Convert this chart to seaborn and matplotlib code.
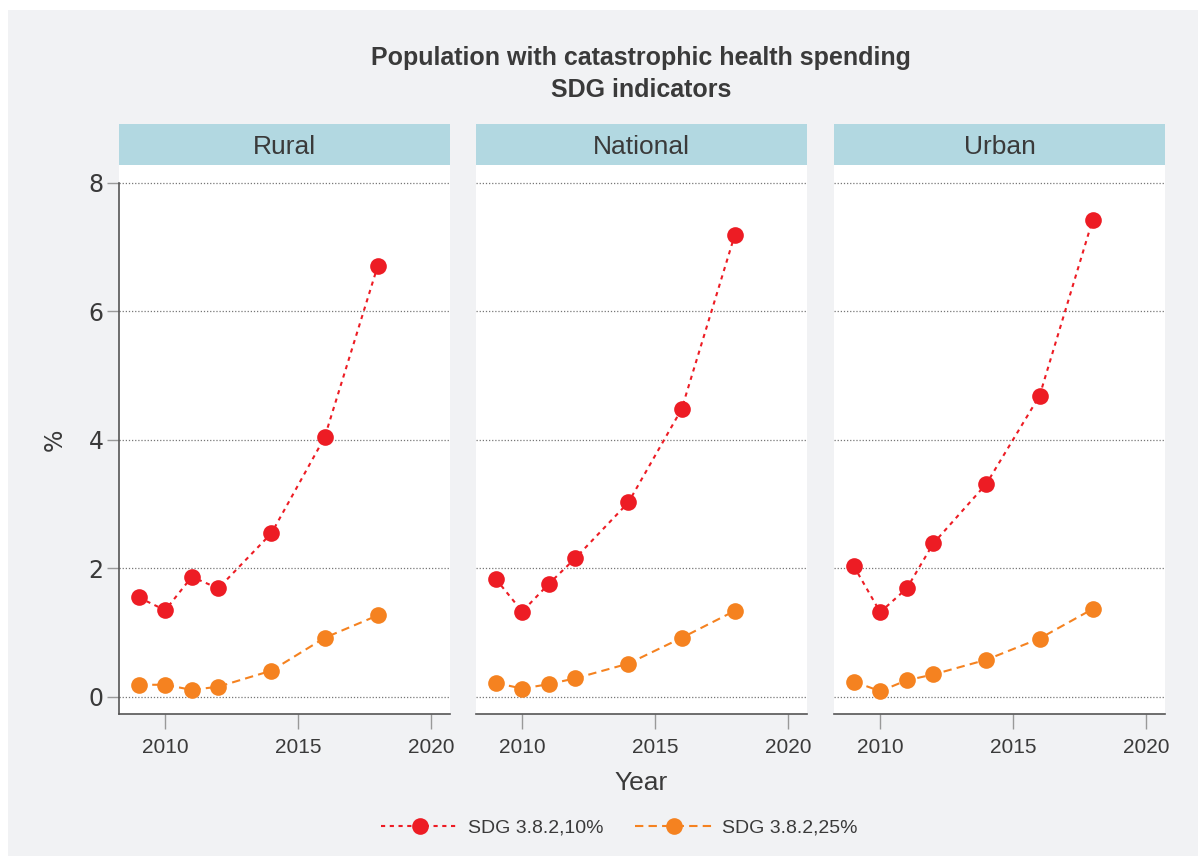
"""
Population with catastrophic health spending (SDG 3.8.2) by area, three panels.
"""
import matplotlib
matplotlib.use("Agg")
import matplotlib.pyplot as plt
from matplotlib.patches import Rectangle
import pandas as pd
import seaborn as sns

# ── Data ──────────────────────────────────────────────────────────────────── #
YEARS = [2009, 2010, 2011, 2012, 2014, 2016, 2018]
PANELS = ["Rural", "National", "Urban"]
SERIES = ["SDG 3.8.2,10%", "SDG 3.8.2,25%"]

rural_10 = [1.55, 1.35, 1.87, 1.69, 2.55, 4.04, 6.71]
rural_25 = [0.19, 0.19, 0.11, 0.16, 0.41, 0.92, 1.27]
national_10 = [1.84, 1.33, 1.76, 2.16, 3.03, 4.48, 7.19]
national_25 = [0.22, 0.13, 0.20, 0.29, 0.52, 0.92, 1.34]
urban_10 = [2.04, 1.32, 1.69, 2.39, 3.32, 4.69, 7.43]
urban_25 = [0.24, 0.09, 0.26, 0.35, 0.58, 0.91, 1.37]

values = {
    ("Rural", SERIES[0]): rural_10, ("Rural", SERIES[1]): rural_25,
    ("National", SERIES[0]): national_10, ("National", SERIES[1]): national_25,
    ("Urban", SERIES[0]): urban_10, ("Urban", SERIES[1]): urban_25,
}
rows = []
for (panel, series), vals in values.items():
    for yr, v in zip(YEARS, vals):
        rows.append({"panel": panel, "series": series, "year": yr, "value": v})
df = pd.DataFrame(rows)

# ── Style ─────────────────────────────────────────────────────────────────── #
BG = "#f1f2f4"
STRIP = "#b2d8e1"
TEXT = "#3a3a3a"
RED = "#ed1c24"
ORANGE = "#f58220"

sns.set_style("white")
plt.rcParams["font.family"] = ["Liberation Sans Narrow", "Liberation Sans", "DejaVu Sans"]
plt.rcParams["text.color"] = TEXT
plt.rcParams["axes.labelcolor"] = TEXT
plt.rcParams["xtick.color"] = TEXT
plt.rcParams["ytick.color"] = TEXT

W, H = 1198, 856
fig = plt.figure(figsize=(W / 100, H / 100), dpi=100, facecolor="white")
fig.patches.append(Rectangle((8 / W, 0), 1 - 8 / W, 1 - 10 / H, transform=fig.transFigure,
                             facecolor=BG, edgecolor="none", zorder=-10))

lefts = [119, 476, 834]
ax_w = 331
bottom, top = 714, 165
strip_h = 41
YMIN, YMAX = -0.265, 8.28

palette = {SERIES[0]: RED, SERIES[1]: ORANGE}
dashes = {SERIES[0]: (2, 2.2), SERIES[1]: (4, 2.5)}
markers = {SERIES[0]: "o", SERIES[1]: "o"}

axes = []
for i, (panel, left) in enumerate(zip(PANELS, lefts)):
    ax = fig.add_axes([left / W, 1 - bottom / H, ax_w / W, (bottom - top) / H])
    ax.set_facecolor("white")
    sub = df[df["panel"] == panel]
    sns.lineplot(data=sub, x="year", y="value", hue="series", style="series",
                 palette=palette, dashes=dashes, markers=markers,
                 markersize=12, markeredgewidth=0, linewidth=1.5, ax=ax)
    ax.set_xlim(2008.26, 2020.72)
    ax.set_ylim(YMIN, YMAX)
    ax.set_xticks([2010, 2015, 2020])
    ax.set_yticks([0, 2, 4, 6, 8])
    ax.grid(axis="y", linestyle=(0, (1, 1.5)), color="#777777", linewidth=0.9)
    ax.grid(axis="x", visible=False)
    ax.set_axisbelow(True)
    for s in ["top", "right"]:
        ax.spines[s].set_visible(False)
    ax.spines["bottom"].set_color("#555555")
    ax.spines["bottom"].set_linewidth(1.2)
    ax.tick_params(axis="x", bottom=True, length=11, width=1, color="#999999",
                   labelsize=15, pad=6)
    if i == 0:
        ax.spines["left"].set_color("#555555")
        ax.spines["left"].set_linewidth(1.2)
        ax.spines["left"].set_bounds(YMIN, 8)
        ax.tick_params(axis="y", left=True, length=9, width=1, color="#999999",
                       labelsize=17, pad=2)
        for lab in ax.get_yticklabels():
            lab.set_fontfamily(["DejaVu Sans"])
        ax.set_ylabel("%", fontsize=17, labelpad=16, fontfamily=["DejaVu Sans"])
    else:
        ax.spines["left"].set_visible(False)
        ax.tick_params(axis="y", left=False, labelleft=False)
        ax.set_ylabel("")
    ax.set_xlabel("Year" if i == 1 else "", fontsize=19, labelpad=10)
    # facet strip
    ax.add_patch(Rectangle((0, 1), 1, strip_h / (bottom - top), transform=ax.transAxes,
                           facecolor=STRIP, edgecolor="none", clip_on=False))
    ax.text(0.5, 1 + (strip_h / 2 - 2) / (bottom - top), panel, transform=ax.transAxes,
            ha="center", va="center", fontsize=19, color=TEXT)
    axes.append(ax)

handles, labels = axes[0].get_legend_handles_labels()
for ax in axes:
    if ax.get_legend() is not None:
        ax.get_legend().remove()

fig.legend(handles, labels, loc="center", bbox_to_anchor=(0.517, 1 - 828 / H), ncol=2,
           frameon=False, fontsize=14, handlelength=4.0, columnspacing=1.6, handletextpad=0.5)

fig.text(0.535, 1 - 58 / H, "Population with catastrophic health spending", ha="center", va="center",
         fontsize=18, fontweight="bold", color=TEXT)
fig.text(0.535, 1 - 90 / H, "SDG indicators", ha="center", va="center",
         fontsize=18, fontweight="bold", color=TEXT)

fig.savefig("out.png", dpi=100, facecolor=fig.get_facecolor())
